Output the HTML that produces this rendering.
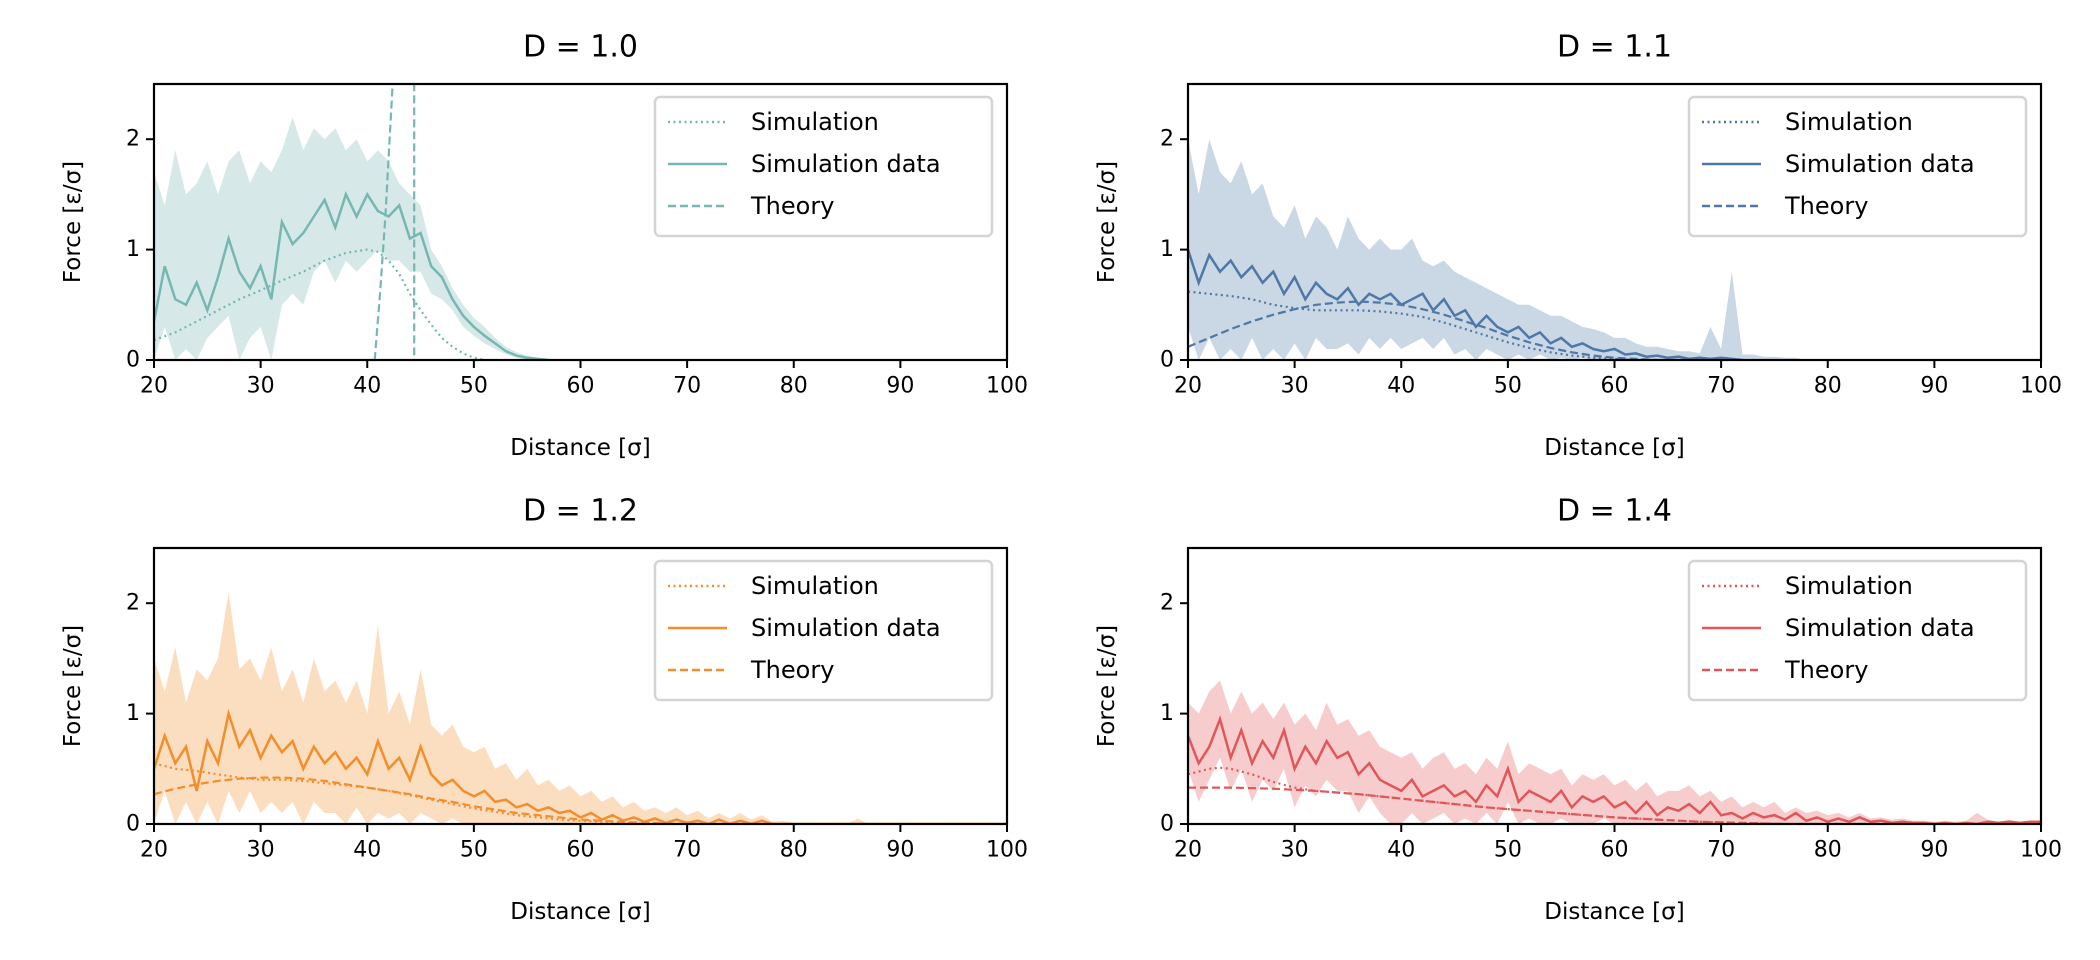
<!DOCTYPE html>
<html><head><meta charset="utf-8">
<style>
html,body{margin:0;padding:0;background:#fff;}
svg{display:block;font-family:"DejaVu Sans","Liberation Sans",sans-serif;}
</style></head>
<body>
<svg id="chart" width="2100" height="960" viewBox="0 0 2100 960" xmlns="http://www.w3.org/2000/svg"></svg>
<script>
const xTicks = [20,30,40,50,60,70,80,90,100];
const yTicks = [0,1,2];
const titles = ["D = 1.0","D = 1.1","D = 1.2","D = 1.4"];
const colors = ["#76b7b2","#4e79a7","#f28e2b","#e15759"];

// Simulation data (mean) sampled at x = 20,21,22,...
const mean10 = [0.35,0.85,0.55,0.5,0.7,0.45,0.75,1.1,0.8,0.65,0.85,0.55,1.25,1.05,1.15,1.3,1.45,1.2,1.5,1.3,1.5,1.35,1.3,1.4,1.1,1.15,0.85,0.75,0.55,0.4,0.3,0.22,0.15,0.08,0.04,0.02,0.01,0];
const upper10 = [1.7,1.4,1.9,1.5,1.6,1.8,1.5,1.8,1.9,1.6,1.8,1.7,1.9,2.2,1.9,2.1,2.0,2.1,1.9,2.0,1.8,1.9,1.8,1.6,1.5,1.4,1.0,0.85,0.65,0.5,0.38,0.3,0.2,0.12,0.07,0.04,0.02,0];
const lower10 = [0,0.3,0,0.1,0,0.2,0.3,0.4,0,0.2,0.3,0,0.5,0.6,0.5,0.8,0.9,0.7,0.9,0.8,0.9,1.0,0.9,0.9,0.8,0.8,0.6,0.55,0.45,0.3,0.22,0.15,0.1,0.05,0.02,0,0,0];

const mean11 = [1.0,0.7,0.95,0.8,0.9,0.75,0.85,0.7,0.8,0.6,0.75,0.55,0.7,0.6,0.55,0.65,0.5,0.6,0.55,0.6,0.5,0.55,0.6,0.45,0.55,0.4,0.45,0.3,0.4,0.3,0.25,0.3,0.2,0.25,0.15,0.2,0.12,0.15,0.1,0.08,0.1,0.05,0.06,0.03,0.04,0.02,0.03,0.01,0.02,0.01,0.02,0.01,0];
const upper11 = [2.0,1.5,2.0,1.7,1.6,1.8,1.5,1.6,1.3,1.2,1.4,1.1,1.3,1.2,1.0,1.3,1.1,1.0,1.1,1.0,1.0,1.1,0.9,0.85,0.9,0.8,0.75,0.7,0.65,0.6,0.55,0.5,0.5,0.45,0.4,0.4,0.35,0.3,0.28,0.25,0.2,0.2,0.15,0.12,0.12,0.1,0.08,0.08,0.06,0.3,0.1,0.8,0.05,0.05,0.03,0.03,0.02,0.02,0];
const lower11 = [0.3,0,0.2,0,0.1,0,0.2,0,0.1,0,0.15,0,0.2,0.1,0.1,0.15,0.05,0.2,0.1,0.2,0.1,0.15,0.2,0.1,0.2,0.05,0.1,0,0.1,0.05,0,0.05,0,0.05,0,0.02,0,0.02,0,0,0,0,0,0,0,0,0,0,0,0,0,0,0,0,0,0,0,0,0];

const mean12 = [0.5,0.8,0.55,0.7,0.3,0.75,0.55,1.0,0.7,0.85,0.6,0.8,0.65,0.75,0.5,0.7,0.55,0.65,0.5,0.6,0.45,0.75,0.5,0.6,0.4,0.7,0.45,0.35,0.4,0.3,0.25,0.3,0.2,0.22,0.15,0.18,0.12,0.15,0.1,0.12,0.06,0.1,0.04,0.08,0.03,0.06,0.02,0.05,0.01,0.04,0.01,0.03,0,0.04,0,0.03,0,0.03,0,0,0,0,0,0,0,0,0,0,0,0,0,0,0,0,0,0,0,0,0,0,0];
const upper12 = [1.5,1.2,1.6,1.1,1.4,1.3,1.5,2.1,1.4,1.5,1.3,1.6,1.2,1.4,1.1,1.5,1.2,1.3,1.1,1.3,1.0,1.8,1.0,1.2,0.9,1.4,0.9,0.8,0.9,0.7,0.65,0.7,0.5,0.55,0.4,0.5,0.35,0.4,0.3,0.35,0.25,0.3,0.2,0.25,0.15,0.2,0.12,0.15,0.1,0.15,0.08,0.12,0.05,0.1,0.05,0.1,0.04,0.08,0.02,0.03,0.01,0,0,0,0,0,0.05,0,0,0,0,0,0,0,0,0,0,0,0,0,0];
const lower12 = [0,0.3,0,0.2,0,0.2,0,0.3,0.1,0.3,0.1,0.2,0.1,0.2,0,0.2,0.1,0.1,0,0.15,0,0.1,0.05,0.1,0,0.1,0.05,0,0.05,0,0,0,0,0,0,0,0,0,0,0,0,0,0,0,0,0,0,0,0,0,0,0,0,0,0,0,0,0,0,0,0,0,0,0,0,0,0,0,0,0,0,0,0,0,0,0,0,0,0,0,0];

const mean14 = [0.8,0.55,0.7,0.95,0.6,0.85,0.55,0.75,0.6,0.85,0.5,0.7,0.55,0.75,0.6,0.65,0.45,0.55,0.4,0.35,0.3,0.4,0.25,0.3,0.35,0.25,0.3,0.2,0.35,0.25,0.5,0.2,0.3,0.25,0.2,0.3,0.15,0.25,0.2,0.25,0.15,0.2,0.1,0.2,0.08,0.15,0.12,0.18,0.1,0.2,0.08,0.1,0.05,0.1,0.06,0.08,0.04,0.1,0.03,0.06,0.02,0.05,0.02,0.06,0.02,0.03,0.01,0.02,0.01,0.01,0,0.01,0,0.01,0,0.02,0.01,0.02,0.01,0.02,0.02];
const upper14 = [1.1,1.0,1.2,1.3,1.0,1.2,1.0,1.1,0.95,1.1,0.9,1.0,0.85,1.1,0.9,0.95,0.8,0.85,0.7,0.65,0.6,0.65,0.5,0.6,0.65,0.5,0.55,0.45,0.6,0.5,0.75,0.45,0.55,0.5,0.45,0.5,0.35,0.45,0.4,0.45,0.35,0.4,0.3,0.38,0.25,0.3,0.3,0.35,0.25,0.3,0.2,0.25,0.15,0.2,0.15,0.2,0.1,0.15,0.1,0.12,0.08,0.1,0.06,0.1,0.05,0.06,0.04,0.05,0.03,0.03,0.02,0.03,0.02,0.03,0.1,0.04,0.02,0.04,0.02,0.03,0.03];
const lower14 = [0.5,0.2,0.4,0.6,0.3,0.5,0.2,0.4,0.3,0.5,0.15,0.35,0.25,0.4,0.3,0.3,0.1,0.25,0.1,0,0,0.1,0,0.05,0.1,0,0.05,0,0.1,0,0.2,0,0.05,0,0,0.05,0,0,0,0.05,0,0,0,0,0,0,0,0,0,0,0,0,0,0,0,0,0,0,0,0,0,0,0,0,0,0,0,0,0,0,0,0,0,0,0,0,0,0,0,0,0];

// Simulation (dotted) and theory (dashed) curves
const simX10 = [20,22,24,26,28,30,32,34,36,38,40,41,42,43,44,45,46,47,48,49,50,51];
const simY10 = [0.18,0.25,0.35,0.45,0.55,0.63,0.72,0.8,0.9,0.97,1.0,0.98,0.9,0.78,0.6,0.45,0.32,0.2,0.12,0.06,0.02,0];
const thX10 = [40.7,41.2,41.7,42.1,42.5,44.35,44.4];
const thY10 = [0,0.6,1.3,2.0,2.7,60,0];

const simX11 = [20,22,24,26,28,30,32,34,36,38,40,42,44,46,48,50,52,54,56,58,60,62];
const simY11 = [0.62,0.6,0.58,0.55,0.5,0.47,0.45,0.45,0.45,0.44,0.42,0.39,0.34,0.28,0.22,0.16,0.11,0.07,0.04,0.02,0.01,0];
const thX11 = [20,22,24,26,28,30,32,34,36,38,40,42,44,46,48,50,52,54,56,58,60,62,64];
const thY11 = [0.12,0.2,0.28,0.35,0.41,0.46,0.5,0.52,0.53,0.52,0.5,0.46,0.41,0.35,0.29,0.22,0.16,0.11,0.07,0.04,0.02,0.01,0];

const simX12 = [20,22,24,26,28,30,32,34,36,38,40,42,44,46,48,50,52,54,56,58,60,62,64,66];
const simY12 = [0.55,0.5,0.48,0.45,0.42,0.4,0.4,0.39,0.37,0.35,0.33,0.3,0.26,0.22,0.18,0.14,0.11,0.08,0.06,0.04,0.03,0.02,0.01,0];
const thX12 = [20,22,24,26,28,30,32,34,36,38,40,42,44,46,48,50,52,54,56,58,60,62,64,66,70,100];
const thY12 = [0.27,0.32,0.36,0.39,0.41,0.42,0.42,0.41,0.39,0.36,0.33,0.3,0.27,0.23,0.2,0.16,0.13,0.1,0.08,0.06,0.04,0.03,0.02,0.01,0,0];

const simX14 = [20,22,23,24,26,28,30,32,36,40,44,48,52,56,60,64,68,72,76];
const simY14 = [0.45,0.5,0.51,0.5,0.45,0.38,0.33,0.3,0.27,0.23,0.19,0.15,0.12,0.09,0.06,0.04,0.02,0.01,0];
const thX14 = [20,24,28,32,36,40,44,48,52,56,60,64,68,72,76,100];
const thY14 = [0.33,0.33,0.32,0.3,0.27,0.23,0.19,0.15,0.12,0.09,0.06,0.04,0.02,0.01,0,0];

const panels = [
  {t:0, L:154, R:1007, T:84, B:360, mean:mean10, up:upper10, lo:lower10, sx:simX10, sy:simY10, tx:thX10, ty:thY10},
  {t:1, L:1188, R:2041, T:84, B:360, mean:mean11, up:upper11, lo:lower11, sx:simX11, sy:simY11, tx:thX11, ty:thY11},
  {t:2, L:154, R:1007, T:548, B:824, mean:mean12, up:upper12, lo:lower12, sx:simX12, sy:simY12, tx:thX12, ty:thY12},
  {t:3, L:1188, R:2041, T:548, B:824, mean:mean14, up:upper14, lo:lower14, sx:simX14, sy:simY14, tx:thX14, ty:thY14}
];

const NS = "http://www.w3.org/2000/svg";
const svg = document.getElementById("chart");
function mk(tag, attrs, parent){
  const e = document.createElementNS(NS, tag);
  for (const k in attrs) e.setAttribute(k, attrs[k]);
  (parent||svg).appendChild(e);
  return e;
}
const defs = mk("defs", {});

panels.forEach((p, i) => {
  const col = colors[p.t];
  const xs = v => p.L + (v - 20) / 80 * (p.R - p.L);
  const ys = v => p.B - v / 2.5 * (p.B - p.T);
  const g = mk("g", {});
  
  
  const cp = mk("clipPath", {id:"clip"+i}, defs);
  mk("rect", {x:p.L, y:p.T, width:p.R-p.L, height:p.B-p.T}, cp);

  const title = mk("text", {x:(p.L+p.R)/2, y:p.T-37, "text-anchor":"middle", "dominant-baseline":"central", "font-size":"30", fill:"#000"}, g);
  title.textContent = titles[p.t];
  
  

  const plot = mk("g", {"clip-path":"url(#clip"+i+")"}, g);
  let d = "";
  p.up.forEach((v,k)=>{ d += (k?"L":"M") + xs(20+k).toFixed(1) + "," + ys(v).toFixed(1); });
  for (let k = p.lo.length-1; k >= 0; k--) d += "L" + xs(20+k).toFixed(1) + "," + ys(p.lo[k]).toFixed(1);
  const band = mk("path", {d:d+"Z", fill:col, "fill-opacity":"0.3", stroke:"none"}, plot);
  
  
  let dm = "";
  p.mean.forEach((v,k)=>{ dm += (k?"L":"M") + xs(20+k).toFixed(1) + "," + ys(v).toFixed(1); });
  const ml = mk("path", {d:dm, fill:"none", stroke:col, "stroke-width":"2.5"}, plot);
  
  
  let ds = "";
  p.sx.forEach((v,k)=>{ ds += (k?"L":"M") + xs(v).toFixed(1) + "," + ys(p.sy[k]).toFixed(1); });
  const sl = mk("path", {d:ds, fill:"none", stroke:col, "stroke-width":"2.2", "stroke-dasharray":"2,3.5"}, plot);
  
  
  let dt = "";
  p.tx.forEach((v,k)=>{ dt += (k?"L":"M") + xs(v).toFixed(1) + "," + ys(p.ty[k]).toFixed(1); });
  const tl = mk("path", {d:dt, fill:"none", stroke:col, "stroke-width":"2.2", "stroke-dasharray":"8,4"}, plot);
  
  

  const fr = mk("rect", {x:p.L, y:p.T, width:p.R-p.L, height:p.B-p.T, fill:"none", stroke:"#000", "stroke-width":"2.2"}, g);
  
  

  xTicks.forEach(v => {
    const x = xs(v);
    mk("line", {x1:x, x2:x, y1:p.B, y2:p.B+8, stroke:"#000", "stroke-width":"2"}, g);
    const tt = mk("text", {x:x, y:p.B+26, "text-anchor":"middle", "dominant-baseline":"central", "font-size":"22", fill:"#000"}, g);
    tt.textContent = v;
    
    
  });
  yTicks.forEach(v => {
    const y = ys(v);
    mk("line", {x1:p.L-8, x2:p.L, y1:y, y2:y, stroke:"#000", "stroke-width":"2"}, g);
    const tt = mk("text", {x:p.L-14, y:y, "text-anchor":"end", "dominant-baseline":"central", "font-size":"22", fill:"#000"}, g);
    tt.textContent = v;
    
    
  });
  const xl = mk("text", {x:(p.L+p.R)/2, y:p.B+88, "text-anchor":"middle", "dominant-baseline":"central", "font-size":"23", fill:"#000"}, g);
  xl.textContent = "Distance [σ]";
  
  
  const yc = (p.T+p.B)/2, yx = p.L-81;
  const yl = mk("text", {x:yx, y:yc, "text-anchor":"middle", "dominant-baseline":"central", "font-size":"23", fill:"#000", transform:"rotate(-90 "+yx+" "+yc+")"}, g);
  yl.textContent = "Force [ε/σ]";
  
  

  const lg = mk("g", {}, g);
  
  
  const lx = p.R - 352, ly = p.T + 13;
  mk("rect", {x:lx, y:ly, width:337, height:139, rx:5, fill:"#fff", "fill-opacity":"0.85", stroke:"#d4d4d4", "stroke-width":"2.5"}, lg);
  const labels = ["Simulation","Simulation data","Theory"];
  const dashes = ["2,3.5","none","8,4"];
  labels.forEach((lab, k) => {
    const y = ly + 25 + k*42;
    mk("line", {x1:lx+13, x2:lx+72, y1:y, y2:y, stroke:col, "stroke-width":"2.5", "stroke-dasharray":dashes[k]}, lg);
    const tx = mk("text", {x:lx+96, y:y, "dominant-baseline":"central", "font-size":"24", fill:"#000"}, lg);
    tx.textContent = lab;
    
    
  });
});
</script>
</body></html>
